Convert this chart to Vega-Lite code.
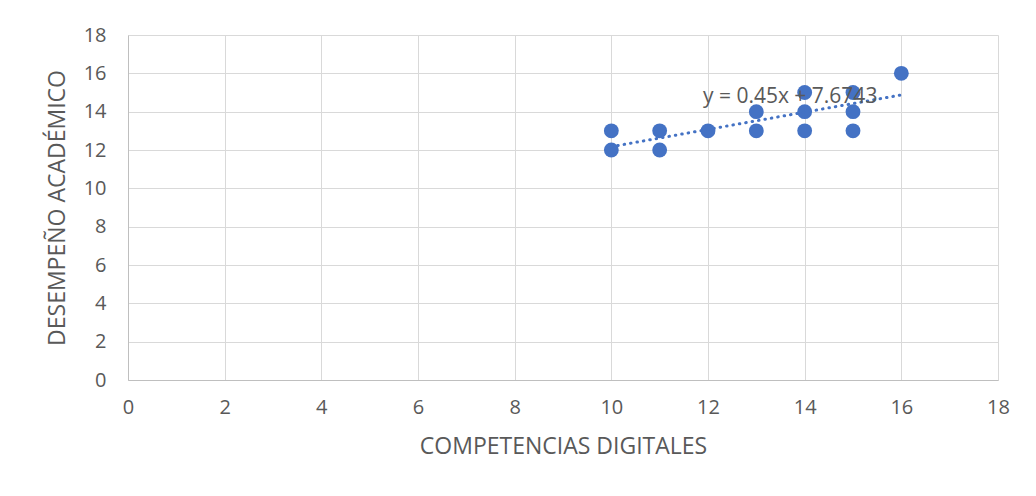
{
  "$schema": "https://vega.github.io/schema/vega-lite/v6.json",
  "autosize": "none",
  "width": 870,
  "height": 345,
  "padding": {"left": 128, "top": 35, "right": 38, "bottom": 116},
  "background": "white",
  "config": {
    "view": {"stroke": null}
  },
  "datasets": {
    "points": [
      {"x": 10, "y": 12}, {"x": 10, "y": 13},
      {"x": 11, "y": 12}, {"x": 11, "y": 13},
      {"x": 12, "y": 13},
      {"x": 13, "y": 13}, {"x": 13, "y": 14},
      {"x": 14, "y": 13}, {"x": 14, "y": 14}, {"x": 14, "y": 15},
      {"x": 15, "y": 13}, {"x": 15, "y": 14}, {"x": 15, "y": 15},
      {"x": 16, "y": 16}
    ],
    "trend": [
      {"x": 10, "y": 12.1743},
      {"x": 16, "y": 14.8743}
    ],
    "label": [
      {"x": 13.7, "y": 14.75, "text": "y = 0.45x + 7.6743"}
    ]
  },
  "encoding": {
    "x": {"field": "x", "type": "quantitative", "scale": {"domain": [0, 18], "nice": false, "zero": false},
      "axis": {"values": [0,2,4,6,8,10,12,14,16,18], "title": "COMPETENCIAS DIGITALES",
        "labelFont": "Open Sans", "titleFont": "Open Sans", "labelColor": "#595959", "titleColor": "#595959",
        "labelFontSize": 20, "titleFontSize": 23, "titleFontWeight": "normal",
        "gridColor": "#d9d9d9", "domainColor": "#bfbfbf", "ticks": false, "labelOverlap": false, "labelFlush": false,
        "labelPadding": 17, "titlePadding": 18, "grid": true}},
    "y": {"field": "y", "type": "quantitative", "scale": {"domain": [0, 18], "nice": false, "zero": false},
      "axis": {"values": [0,2,4,6,8,10,12,14,16,18], "title": "DESEMPEÑO ACADÉMICO",
        "labelFont": "Open Sans", "titleFont": "Open Sans", "labelColor": "#595959", "titleColor": "#595959",
        "labelFontSize": 20, "titleFontSize": 23, "titleFontWeight": "normal",
        "gridColor": "#d9d9d9", "domainColor": "#bfbfbf", "ticks": false, "labelOverlap": false, "labelFlush": false,
        "labelPadding": 22, "titlePadding": 14, "grid": true}}
  },
  "layer": [
    {
      "data": {"name": "points"},
      "mark": {"type": "point", "filled": true, "opacity": 1, "color": "#4472C4", "size": 220}
    },
    {
      "data": {"name": "trend"},
      "mark": {"type": "line", "color": "#4472C4", "strokeWidth": 3, "strokeDash": [0.5, 6], "strokeCap": "round"}
    },
    {
      "data": {"name": "label"},
      "mark": {"type": "text", "color": "#595959", "fontSize": 21, "font": "Open Sans", "align": "center", "baseline": "middle"},
      "encoding": {
        "text": {"field": "text"}
      }
    }
  ]
}
